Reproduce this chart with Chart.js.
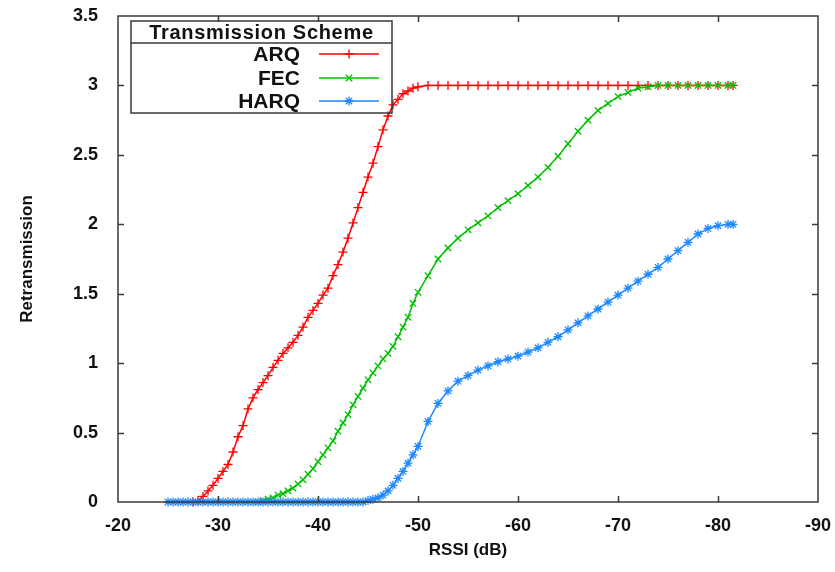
<!DOCTYPE html>
<html>
<head>
<meta charset="utf-8">
<script src="https://cdn.jsdelivr.net/npm/chart.js@4/dist/chart.umd.min.js"></script>
<style>
  html, body { margin: 0; padding: 0; background: #ffffff; }
  #wrap { width: 835px; height: 572px; }
</style>
</head>
<body>
<div id="wrap"><canvas id="c" width="835" height="572"></canvas></div>
<script>
// ---- data ----
const rssi = [-25,-25.5,-26,-26.5,-27,-27.5,-28,-28.5,-29,-29.5,-30,-30.5,-31,-31.5,-32,-32.5,-33,-33.5,-34,-34.5,
  -35,-35.5,-36,-36.5,-37,-37.5,-38,-38.5,-39,-39.5,-40,-40.5,-41,-41.5,-42,-42.5,-43,-43.5,-44,-44.5,
  -45,-45.5,-46,-46.5,-47,-47.5,-48,-48.5,-49,-49.5,-50,
  -51,-52,-53,-54,-55,-56,-57,-58,-59,-60,-61,-62,-63,-64,-65,-66,-67,-68,-69,-70,
  -71,-72,-73,-74,-75,-76,-77,-78,-79,-80,-81,-81.5];

const arq = [null,null,null,null,null,0,
  0.01,0.04,0.08,0.12,0.17,0.22,0.27,0.36,0.47,0.55,0.67,0.75,0.81,0.86,
  0.91,0.97,1.02,1.07,1.11,1.15,1.20,1.26,1.33,1.38,1.43,1.49,1.54,1.63,1.71,1.80,1.90,2.01,2.12,2.23,
  2.34,2.44,2.56,2.68,2.78,2.86,2.90,2.94,2.96,2.98,2.99,
  3,3,3,3,3,3,3,3,3,3,3,3,3,3,3,3,3,3,3,3,
  3,3,3,3,3,3,3,3,3,3,3,3];

const fec = [null,null,null,null,null,null,null,null,null,null,null,null,null,null,null,null,null,null,
  0,0.01,
  0.02,0.03,0.05,0.06,0.08,0.10,0.13,0.16,0.20,0.24,0.29,0.34,0.39,0.44,0.51,0.57,0.63,0.70,0.76,0.82,
  0.88,0.93,0.98,1.03,1.07,1.12,1.19,1.26,1.33,1.43,1.51,
  1.63,1.75,1.83,1.90,1.96,2.01,2.06,2.12,2.17,2.22,2.28,2.34,2.41,2.49,2.58,2.67,2.75,2.82,2.87,2.92,
  2.95,2.98,2.99,3,3,3,3,3,3,3,3,3];

const harq = [0,0,0,0,0,0,0,0,0,0,0,0,0,0,0,0,0,0,0,0,
  0,0,0,0,0,0,0,0,0,0,0,0,0,0,0,0,0,0,0,0,
  0.01,0.02,0.03,0.05,0.08,0.12,0.17,0.22,0.28,0.34,0.40,
  0.58,0.71,0.80,0.87,0.91,0.95,0.98,1.01,1.03,1.05,1.08,1.11,1.15,1.19,1.24,1.29,1.34,1.39,1.44,1.49,
  1.54,1.59,1.64,1.69,1.75,1.81,1.87,1.93,1.97,1.99,2.0,2.0];

const seriesNames = ['ARQ', 'FEC', 'HARQ'];
const legendTitle = 'Transmission Scheme';
const xTitle = 'RSSI (dB)';
const yTitle = 'Retransmission';
const xTicks = [-20,-30,-40,-50,-60,-70,-80,-90];
const yTicks = [0,0.5,1,1.5,2,2.5,3,3.5];

// ---- styles ----
const colors = ['#ff0000', '#00c000', '#1e88ff'];
const pstyles = ['cross', 'crossRot', 'star'];
const FONT = "'Liberation Sans', Arial, sans-serif";

function pts(vals) { return rssi.map((x, i) => ({ x: x, y: vals[i] })); }

const datasets = [arq, fec, harq].map((vals, i) => ({
  label: seriesNames[i],
  data: pts(vals),
  borderColor: colors[i],
  backgroundColor: colors[i],
  borderWidth: 1.5,
  pointStyle: pstyles[i],
  pointRadius: 4.5,
  pointBorderWidth: 1.3,
  pointBorderColor: colors[i],
  pointBackgroundColor: colors[i],
  tension: 0,
  spanGaps: false,
  clip: false,
  order: 2 - i
}));

function noPad(scale) {
  scale.paddingTop = 0; scale.paddingBottom = 0;
  scale.paddingLeft = 0; scale.paddingRight = 0;
}

// inward ticks + frame
const framePlugin = {
  id: 'frame',
  afterDatasetsDraw(chart) {
    const { ctx, chartArea: a, scales } = chart;
    ctx.save();
    ctx.strokeStyle = '#3a3a3a';
    ctx.lineWidth = 1.5;
    const tl = 6;
    ctx.beginPath();
    scales.x.ticks.forEach(t => {
      const px = Math.round(scales.x.getPixelForValue(t.value)) + 0.5;
      if (px <= a.left + 1 || px >= a.right - 1) return;
      ctx.moveTo(px, a.bottom); ctx.lineTo(px, a.bottom - tl);
      ctx.moveTo(px, a.top); ctx.lineTo(px, a.top + tl);
    });
    scales.y.ticks.forEach(t => {
      const py = Math.round(scales.y.getPixelForValue(t.value)) + 0.5;
      if (py <= a.top + 1 || py >= a.bottom - 1) return;
      ctx.moveTo(a.left, py); ctx.lineTo(a.left + tl, py);
      ctx.moveTo(a.right, py); ctx.lineTo(a.right - tl, py);
    });
    ctx.stroke();
    ctx.strokeRect(a.left, a.top, a.right - a.left, a.bottom - a.top);
    ctx.restore();
  }
};

// gnuplot-style key
const keyPlugin = {
  id: 'key',
  afterDatasetsDraw(chart) {
    const { ctx, chartArea: a } = chart;
    const bx = a.left + 13, by = a.top + 5, bw = 261, bh = 92, th = 22;
    ctx.save();
    ctx.strokeStyle = '#3a3a3a';
    ctx.lineWidth = 1.5;
    ctx.strokeRect(bx, by, bw, bh);
    ctx.beginPath();
    ctx.moveTo(bx, by + th); ctx.lineTo(bx + bw, by + th);
    ctx.stroke();
    ctx.fillStyle = '#111';
    ctx.font = 'bold 20px ' + FONT;
    ctx.textBaseline = 'middle';
    ctx.textAlign = 'center';
    ctx.letterSpacing = '0.7px';
    ctx.fillText(legendTitle, bx + bw / 2, by + th / 2 + 1);
    ctx.letterSpacing = '0px';
    const rowY = [by + 33, by + 57, by + 80];
    chart.data.datasets.forEach((ds, i) => {
      const y = rowY[i];
      ctx.fillStyle = '#111';
      ctx.textAlign = 'right';
      ctx.font = 'bold 21px ' + FONT;
      ctx.fillText(ds.label, bx + 169, y + 1);
      ctx.strokeStyle = ds.borderColor;
      ctx.fillStyle = ds.borderColor;
      ctx.lineWidth = 1.5;
      ctx.beginPath();
      ctx.moveTo(bx + 188, y); ctx.lineTo(bx + 248, y);
      ctx.stroke();
      ctx.lineWidth = 1.3;
      Chart.helpers.drawPoint(ctx, {
        pointStyle: ds.pointStyle, radius: 4.5, borderWidth: 1.3, rotation: 0
      }, bx + 218, y);
    });
    ctx.restore();
  }
};

new Chart(document.getElementById('c'), {
  type: 'line',
  data: { datasets: datasets },
  options: {
    responsive: false,
    animation: false,
    devicePixelRatio: 1,
    layout: { padding: { left: 0, right: 17, top: 16, bottom: 0 } },
    plugins: { legend: { display: false }, tooltip: { enabled: false } },
    scales: {
      x: {
        type: 'linear',
        reverse: true,
        min: -90, max: -20,
        afterBuildTicks(scale) { scale.ticks = xTicks.map(v => ({ value: v })); },
        afterFit(scale) { scale.height = 70; noPad(scale); },
        grid: { display: false, drawTicks: false },
        border: { display: false },
        ticks: {
          color: '#111',
          padding: 13,
          maxRotation: 0,
          font: { family: FONT, size: 18, weight: 'bold' },
          callback: v => String(v)
        },
        title: {
          display: true, text: xTitle, color: '#111',
          font: { family: FONT, size: 17, weight: 'bold' },
          padding: { top: 0, bottom: 11 }
        }
      },
      y: {
        type: 'linear',
        min: 0, max: 3.5,
        afterBuildTicks(scale) { scale.ticks = yTicks.map(v => ({ value: v })); },
        afterFit(scale) { scale.width = 118; noPad(scale); },
        grid: { display: false, drawTicks: false },
        border: { display: false },
        ticks: {
          color: '#111',
          padding: 20,
          font: { family: FONT, size: 18, weight: 'bold' },
          callback: v => String(v)
        },
        title: {
          display: true, text: yTitle, color: '#111',
          font: { family: FONT, size: 17, weight: 'bold' },
          padding: { top: 17, bottom: 0 }
        }
      }
    }
  },
  plugins: [framePlugin, keyPlugin]
});
</script>
</body>
</html>
